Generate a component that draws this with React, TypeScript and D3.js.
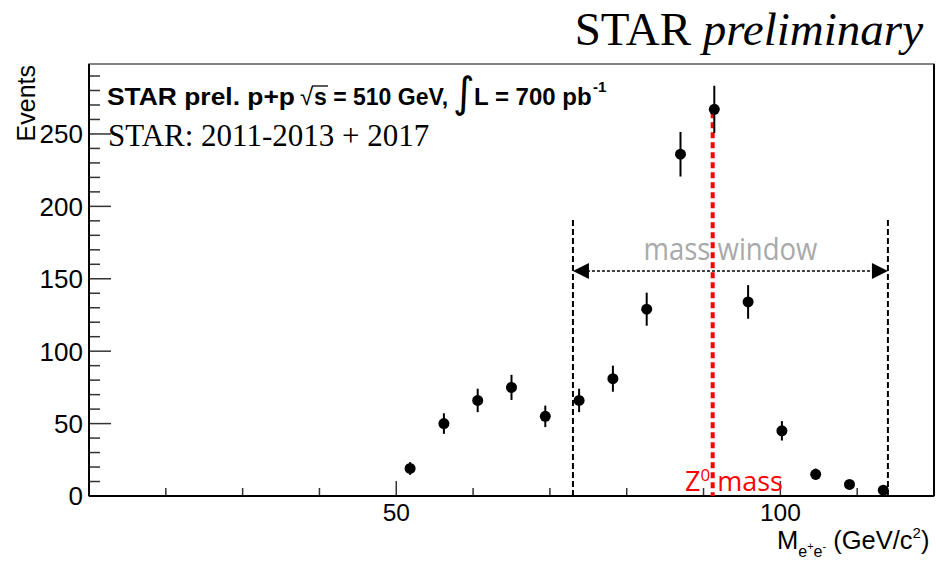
import React from 'react';
import * as d3 from 'd3';

// invariant mass histogram
const binCenters = [51.8, 56.2, 60.6, 65.0, 69.4, 73.8, 78.2, 82.6, 87.0, 91.4, 95.8, 100.2, 104.6, 109.0, 113.4];
const counts = [19, 50, 66, 75, 55, 66, 81, 129, 236, 267, 134, 45, 15, 8, 4];
const errors = [4.4, 7.1, 8.1, 8.7, 7.4, 8.1, 9.0, 11.4, 15.4, 16.3, 11.6, 6.7, 3.9, 2.8, 2.0];

const xMinorTicks = [20, 30, 40, 60, 70, 80, 90, 110];
const xMajorTicks = [50, 100];
const yMinorTicks = [10, 20, 30, 40, 60, 70, 80, 90, 110, 120, 130, 140, 160, 170, 180, 190, 210, 220, 230, 240, 260, 270, 280, 290];
const yMajorTicks = [0, 50, 100, 150, 200, 250];

const massWindow = [73, 114];
const zMass = 91.19;

const W = 936;
const H = 562;
const left = 89, right = 934, top = 64, bottom = 496;

const SANS = '"Liberation Sans", Arial, Helvetica, sans-serif';
const SERIF = '"Liberation Serif", "Times New Roman", serif';
const CAL = '"Open Sans", "Noto Sans", sans-serif';

export default function App() {
  const x = d3.scaleLinear().domain([10, 120]).range([left, right]);
  const y = d3.scaleLinear().domain([0, 298.3]).range([bottom, top]);

  const arrowY = y(155.4);
  const winTop = y(190.6);

  return (
    <div style={{ position: 'absolute', left: 0, top: 0 }}>
      <svg width={W} height={H} style={{ display: 'block', background: '#fff' }}>
        {/* title */}
        <text x={923} y={45} textAnchor="end" fontFamily={SERIF} fontSize={47} fill="#000">
          STAR <tspan fontStyle="italic">preliminary</tspan>
        </text>

        {/* frame */}
        <rect x={left} y={top} width={right - left} height={bottom - top} fill="none" stroke="#444" strokeWidth={1.3} />

        {/* y ticks */}
        {yMinorTicks.map(v => (
          <line key={'ym' + v} x1={left} x2={left + 11} y1={y(v)} y2={y(v)} stroke="#333" strokeWidth={1.5} />
        ))}
        {yMajorTicks.map(v => (
          <line key={'yM' + v} x1={left} x2={left + 22} y1={y(v)} y2={y(v)} stroke="#333" strokeWidth={1.5} />
        ))}
        {yMajorTicks.map(v => (
          <text key={'yl' + v} x={83} y={y(v)} dy="0.36em" textAnchor="end" fontFamily={SANS} fontSize={26} fill="#000">{v}</text>
        ))}

        {/* x ticks */}
        {xMinorTicks.map(v => (
          <line key={'xm' + v} x1={x(v)} x2={x(v)} y1={bottom} y2={bottom - 8} stroke="#333" strokeWidth={1.5} />
        ))}
        {xMajorTicks.map(v => (
          <line key={'xM' + v} x1={x(v)} x2={x(v)} y1={bottom} y2={bottom - 15} stroke="#333" strokeWidth={1.5} />
        ))}
        {xMajorTicks.map(v => (
          <text key={'xl' + v} x={x(v)} y={521} textAnchor="middle" fontFamily={SANS} fontSize={24.5} fill="#000">{v}</text>
        ))}

        {/* axes lines */}
        <line x1={left} x2={left} y1={top} y2={bottom} stroke="#000" strokeWidth={2} />
        <line x1={left} x2={right} y1={bottom} y2={bottom} stroke="#000" strokeWidth={2} />
        <line x1={right} x2={right} y1={top} y2={bottom} stroke="#000" strokeWidth={2} />

        {/* axis titles */}
        <text transform={`translate(35,${top + 1}) rotate(-90)`} textAnchor="end" fontFamily={SANS} fontSize={25} fill="#000">Events</text>
        <text x={777} y={549} fontFamily={SANS} fontSize={25.5} fill="#000">
          M
          <tspan fontSize={16} dy={8}>e</tspan>
          <tspan fontSize={11} dy={-7}>+</tspan>
          <tspan fontSize={16} dy={7}>e</tspan>
          <tspan fontSize={11} dy={-7}>-</tspan>
          <tspan fontSize={25.5} dy={-1}> (GeV/c</tspan>
          <tspan fontSize={15} dy={-11}>2</tspan>
          <tspan fontSize={25.5} dy={11}>)</tspan>
        </text>

        {/* mass window */}
        {massWindow.map(v => (
          <line key={'mw' + v} x1={x(v)} x2={x(v)} y1={winTop} y2={bottom} stroke="#000" strokeWidth={2} strokeDasharray="6,3" />
        ))}
        <line x1={x(massWindow[0]) + 14} x2={x(massWindow[1]) - 14} y1={arrowY} y2={arrowY} stroke="#000" strokeWidth={1.5} strokeDasharray="3,2" />
        <path d={`M${x(massWindow[0])},${arrowY} l16,-8 l0,16 z`} fill="#000" />
        <path d={`M${x(massWindow[1])},${arrowY} l-16,-8 l0,16 z`} fill="#000" />
        <text transform={`translate(${x(93.5)},260) scale(1,1.18)`} textAnchor="middle" fontFamily={CAL} fontSize={26} fill="#a9a9a9" textLength={174} lengthAdjust="spacingAndGlyphs">mass window</text>

        {/* Z mass line */}
        <line x1={x(zMass)} x2={x(zMass)} y1={y(265)} y2={bottom} stroke="#ff0000" strokeWidth={4} strokeDasharray="6,4" />
        <text x={685} y={491} fontFamily={CAL} fontSize={27} fill="#ff0000">
          Z<tspan fontSize={17} dy={-10}>0</tspan><tspan fontSize={27} dy={10}> mass</tspan>
        </text>

        {/* data points */}
        <g>
          {counts.map((c, i) => (
            <line key={'e' + i} x1={x(binCenters[i])} x2={x(binCenters[i])} y1={y(c - errors[i])} y2={y(c + errors[i])} stroke="#000" strokeWidth={2} />
          ))}
          {counts.map((c, i) => (
            <circle key={'p' + i} cx={x(binCenters[i])} cy={y(c)} r={5.5} fill="#000" />
          ))}
        </g>

        {/* legend text */}
        <text x={107} y={105} fontFamily={SANS} fontWeight="bold" fontSize={24.5} fill="#000" textLength={188} lengthAdjust="spacingAndGlyphs">STAR prel. p+p</text>
        <text x={300} y={105} fontFamily={SANS} fontSize={24} fill="#000">√</text>
        <text x={314} y={105} fontFamily={SANS} fontWeight="bold" fontSize={23} fill="#000">s = 510 GeV,</text>
        <line x1={312} x2={328} y1={86} y2={86} stroke="#000" strokeWidth={1.3} />
        <text x={453} y={107} fontFamily='"DejaVu Sans", sans-serif' fontSize={42} fill="#000">∫</text>
        <text x={474} y={105} fontFamily={SANS} fontWeight="bold" fontSize={24} fill="#000">L = 700 pb</text>
        <text x={593} y={92} fontFamily={SANS} fontWeight="bold" fontSize={15} fill="#000">-1</text>
        <text x={108} y={146} fontFamily={SERIF} fontSize={31} fill="#000">STAR: 2011-2013 + 2017</text>
      </svg>
    </div>
  );
}
